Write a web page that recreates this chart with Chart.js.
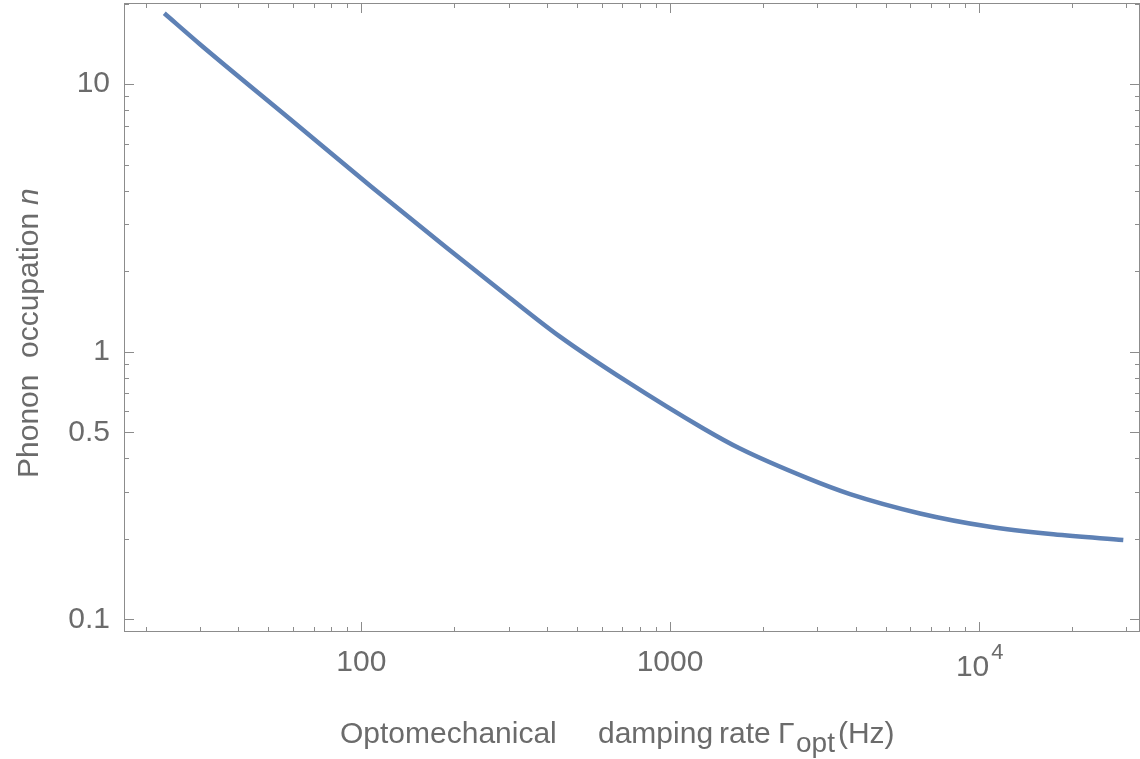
<!DOCTYPE html>
<html>
<head>
<meta charset="utf-8">
<script src="https://cdn.jsdelivr.net/npm/chart.js@4.4.1/dist/chart.umd.min.js"></script>
<style>
    html, body { margin: 0; padding: 0; background: #ffffff; }
</style>
</head>
<body>
<canvas id="phononChart" width="1140" height="759"></canvas>
<script>
// Curve: damping rate (Hz) vs phonon occupation
const gammaOpt = [23, 30, 59, 108, 189, 303, 440, 724, 1282, 1685, 2773, 3830, 6455, 10614, 17446, 29400];
const phononN = [18.4, 14.1, 7.38, 4.13, 2.45, 1.59, 1.14, 0.775, 0.517, 0.435, 0.338, 0.294, 0.249, 0.223, 0.208, 0.198];

// Axis ticks
const xMajorTicks = [100, 1000, 10000];
const xTickLabels = ['100', '1000', '10^4'];
const xMinorTicks = [20, 30, 40, 50, 60, 70, 80, 90, 200, 300, 400, 500, 600, 700, 800, 900,
    2000, 3000, 4000, 5000, 6000, 7000, 8000, 9000, 20000, 30000];
const yMajorTicks = [0.1, 0.5, 1, 10];
const yTickLabels = ['0.1', '0.5', '1', '10'];
const yMinorTicks = [0.2, 0.3, 0.4, 0.6, 0.7, 0.8, 0.9, 2, 3, 4, 5, 6, 7, 8, 9, 20];

const FONT = '"Liberation Sans", Arial, sans-serif';
const TEXT_COLOR = '#6b6b6b';
const FRAME_COLOR = '#8c8c8c';

// Mathematica-like frame: box, inward ticks on all four sides, axis titles
const framePlugin = {
    id: 'frameTicks',
    afterDraw(chart) {
        const ctx = chart.ctx;
        const a = chart.chartArea;
        const xs = chart.scales.x;
        const ys = chart.scales.y;

        ctx.save();
        ctx.strokeStyle = FRAME_COLOR;
        ctx.lineWidth = 1;
        ctx.strokeRect(a.left + 0.5, a.top + 0.5, a.right - a.left - 1, a.bottom - a.top - 1);

        function xTick(v, len) {
            const px = Math.round(xs.getPixelForValue(v)) + 0.5;
            ctx.beginPath();
            ctx.moveTo(px, a.bottom);
            ctx.lineTo(px, a.bottom - len);
            ctx.moveTo(px, a.top);
            ctx.lineTo(px, a.top + len);
            ctx.stroke();
        }
        function yTick(v, len) {
            const py = Math.round(ys.getPixelForValue(v)) + 0.5;
            ctx.beginPath();
            ctx.moveTo(a.left, py);
            ctx.lineTo(a.left + len, py);
            ctx.moveTo(a.right, py);
            ctx.lineTo(a.right - len, py);
            ctx.stroke();
        }
        xMajorTicks.forEach(v => xTick(v, 10));
        xMinorTicks.forEach(v => xTick(v, 5));
        yMajorTicks.forEach(v => yTick(v, 10));
        yMinorTicks.forEach(v => yTick(v, 5));

        // power-of-ten labels with a real superscript
        ctx.fillStyle = TEXT_COLOR;
        ctx.textBaseline = 'middle';
        ctx.textAlign = 'left';
        xMajorTicks.forEach((v, i) => {
            const lbl = xTickLabels[i];
            if (lbl.indexOf('^') < 0) return;
            const parts = lbl.split('^');
            ctx.font = '30px ' + FONT;
            const wBase = ctx.measureText(parts[0]).width;
            ctx.font = '22px ' + FONT;
            const wExp = ctx.measureText(parts[1]).width;
            const start = xs.getPixelForValue(v) - (wBase + wExp) / 2;
            ctx.font = '30px ' + FONT;
            ctx.fillText(parts[0], start, 668);
            ctx.font = '22px ' + FONT;
            ctx.fillText(parts[1], start + wBase + 2, 653);
        });

        // x axis title
        ctx.textBaseline = 'alphabetic';
        ctx.font = '30px ' + FONT;
        ctx.fillText('Optomechanical', 340, 743);
        ctx.fillText('damping', 598, 743);
        ctx.fillText('rate', 719, 743);
        ctx.fillText('\u0393', 778, 743);
        ctx.font = '28px ' + FONT;
        ctx.fillText('opt', 796, 752);
        const ow = ctx.measureText('opt').width;
        ctx.font = '30px ' + FONT;
        ctx.fillText('(Hz)', 796 + ow + 3, 743);

        // y axis title (rotated)
        ctx.translate(38, 478);
        ctx.rotate(-Math.PI / 2);
        ctx.font = '30px ' + FONT;
        ctx.fillText('Phonon', 0, 0);
        ctx.fillText('occupation', 120, 0);
        ctx.font = 'italic 30px ' + FONT;
        ctx.fillText('n', 273, 0);
        ctx.restore();
    }
};

document.addEventListener('DOMContentLoaded', function() {
    const canvas = document.getElementById('phononChart');
    const points = gammaOpt.map((g, i) => ({ x: g, y: phononN[i] }));

    new Chart(canvas, {
        type: 'line',
        data: {
            datasets: [{
                data: points,
                borderColor: '#5e81b5',
                borderWidth: 4.5,
                borderCapStyle: 'butt',
                pointRadius: 0,
                fill: false,
                cubicInterpolationMode: 'monotone'
            }]
        },
        options: {
            responsive: false,
            animation: false,
            devicePixelRatio: 1,
            layout: { padding: { top: 3, right: 0, left: 0, bottom: 0 } },
            plugins: {
                legend: { display: false },
                tooltip: { enabled: false }
            },
            scales: {
                x: {
                    type: 'logarithmic',
                    min: 17.03,
                    max: 33300,
                    grid: { display: false, drawTicks: false },
                    border: { display: false },
                    afterBuildTicks: function(scale) {
                        scale.ticks = xMajorTicks.map(v => ({ value: v }));
                    },
                    afterFit: function(scale) {
                        scale.height = 127;
                        scale.paddingLeft = 0;
                        scale.paddingRight = 0;
                    },
                    ticks: {
                        autoSkip: false,
                        maxRotation: 0,
                        padding: 13,
                        color: TEXT_COLOR,
                        font: { family: FONT, size: 30 },
                        callback: function(value) {
                            const lbl = xTickLabels[xMajorTicks.indexOf(value)];
                            return lbl && lbl.indexOf('^') < 0 ? lbl : '';
                        }
                    }
                },
                y: {
                    type: 'logarithmic',
                    min: 0.0898,
                    max: 20.1,
                    grid: { display: false, drawTicks: false },
                    border: { display: false },
                    afterBuildTicks: function(scale) {
                        scale.ticks = yMajorTicks.map(v => ({ value: v }));
                    },
                    afterFit: function(scale) {
                        scale.width = 124;
                        scale.paddingTop = 0;
                        scale.paddingBottom = 0;
                    },
                    ticks: {
                        autoSkip: false,
                        padding: 14,
                        color: TEXT_COLOR,
                        font: { family: FONT, size: 30 },
                        callback: function(value) {
                            const lbl = yTickLabels[yMajorTicks.indexOf(value)];
                            return lbl || '';
                        }
                    }
                }
            }
        },
        plugins: [framePlugin]
    });
});
</script>
</body>
</html>
